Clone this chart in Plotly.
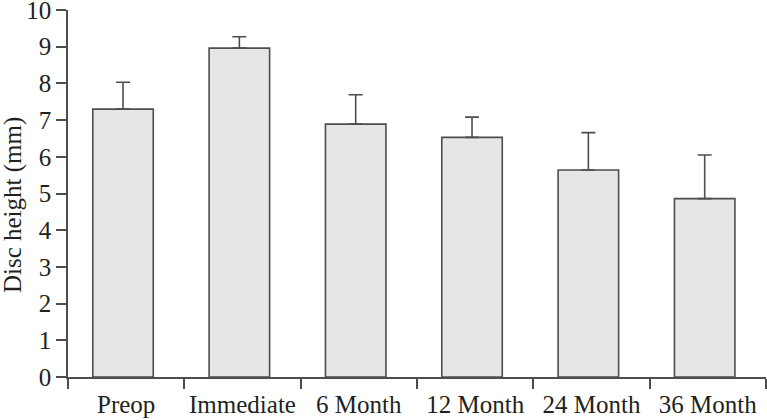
import plotly.graph_objects as go

categories = ["Preop", "Immediate", "6 Month", "12 Month", "24 Month", "36 Month"]
means = [7.30, 8.96, 6.89, 6.53, 5.64, 4.86]
sd_upper = [0.73, 0.31, 0.80, 0.55, 1.02, 1.19]
y_ticks = list(range(0, 11))
y_title = "Disc height (mm)"

font_family = "Liberation Serif, Times New Roman, serif"
line_col = "#4d4d4d"
fs = 25

fig = go.Figure()
fig.add_trace(go.Bar(
    x=categories,
    y=means,
    width=0.52,
    offset=-0.287,
    marker=dict(color="#e6e6e6", line=dict(color=line_col, width=1.6)),
    error_y=dict(type="data", symmetric=False, array=sd_upper,
                 arrayminus=[0] * len(sd_upper),
                 color=line_col, thickness=1.6, width=7),
    showlegend=False,
))

fig.update_layout(
    width=767, height=420,
    margin=dict(l=68, r=1, t=10, b=43, autoexpand=False),
    paper_bgcolor="white", plot_bgcolor="white",
    font=dict(family=font_family, size=fs, color="#231f20"),
)
fig.update_xaxes(
    type="category", showgrid=False, zeroline=False, automargin=False,
    showline=True, linecolor=line_col, linewidth=1.5,
    ticks="outside", tickson="boundaries", ticklen=10,
    tickcolor=line_col, tickwidth=1.5, ticklabelstandoff=4, tickangle=0,
    tickfont=dict(size=fs), range=[-0.5, 5.5],
)
fig.update_yaxes(
    range=[0, 10], tickvals=y_ticks, showgrid=False, zeroline=False,
    automargin=False, ticklabeloverflow="allow",
    showline=True, linecolor=line_col, linewidth=1.5,
    ticks="outside", ticklen=10, tickcolor=line_col, tickwidth=1.5,
    tickfont=dict(size=fs),
)
fig.add_annotation(
    text=y_title, textangle=-90, showarrow=False,
    xref="paper", yref="paper", x=-0.079, y=0.468,
    xanchor="center", yanchor="middle", font=dict(size=fs),
)

fig.write_html("out.html", config={"displayModeBar": False},
               post_script="document.body.style.margin='0';")
